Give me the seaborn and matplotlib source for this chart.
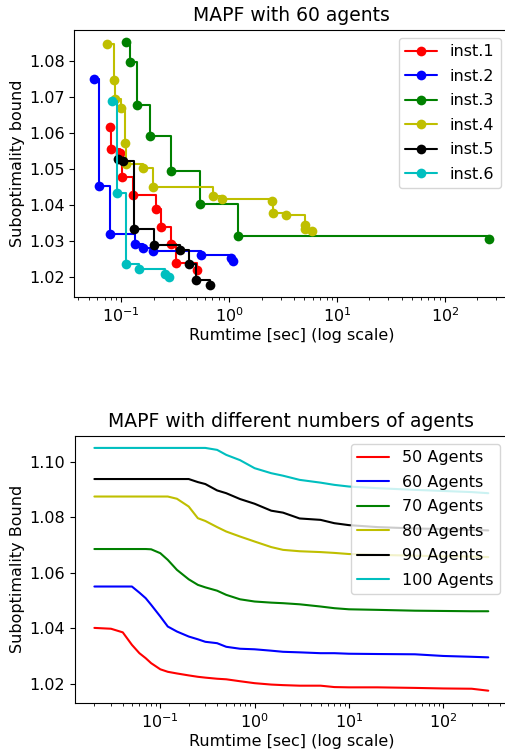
import numpy as np
import pandas as pd
import matplotlib
matplotlib.use('Agg')
import matplotlib.pyplot as plt
import seaborn as sns

# top panel: anytime runs, 60 agents, six instances (runtime [s], bound)
inst_names = ['inst.1', 'inst.2', 'inst.3', 'inst.4', 'inst.5', 'inst.6']
inst_colors = ['#ff0000', '#0000ff', '#008000', '#bfbf00', '#000000', '#00bfbf']

inst1_time = [0.0782, 0.0811, 0.0979, 0.1021, 0.128, 0.209, 0.2334, 0.2897, 0.3183, 0.509]
inst1_bound = [1.0617, 1.0555, 1.0543, 1.0476, 1.0426, 1.0389, 1.0339, 1.0291, 1.0239, 1.0218]

inst2_time = [0.0559, 0.0622, 0.0787, 0.134, 0.158, 0.196, 0.546, 1.044, 1.075]
inst2_bound = [1.0748, 1.0452, 1.0319, 1.0290, 1.0280, 1.0271, 1.0261, 1.0253, 1.0243]

inst3_time = [0.1106, 0.1192, 0.1396, 0.1838, 0.2897, 0.535, 1.217, 258.0]
inst3_bound = [1.0852, 1.0796, 1.0678, 1.0590, 1.0494, 1.0401, 1.0312, 1.0305]

inst4_time = [0.0738, 0.0852, 0.087, 0.0989, 0.1089, 0.1112, 0.16, 0.196,
              0.7087, 0.861, 2.50, 2.57, 3.37, 5.07, 5.09, 5.85]
inst4_bound = [1.0845, 1.0746, 1.0693, 1.0669, 1.0570, 1.0513, 1.0501, 1.0448,
               1.0425, 1.0416, 1.0409, 1.0378, 1.0371, 1.0343, 1.0333, 1.0326]

inst5_time = [0.0938, 0.1048, 0.1315, 0.1993, 0.354, 0.4256, 0.4942, 0.6594]
inst5_bound = [1.0528, 1.0521, 1.0333, 1.0289, 1.0275, 1.0236, 1.0191, 1.0178]

inst6_time = [0.0829, 0.0914, 0.1112, 0.1469, 0.2522, 0.277]
inst6_bound = [1.0687, 1.0431, 1.0235, 1.0221, 1.0206, 1.0198]

# bottom panel: average bound over runtime for different team sizes
agent_labels = ['50 Agents', '60 Agents', '70 Agents', '80 Agents', '90 Agents', '100 Agents']
agent_colors = ['#ff0000', '#0000ff', '#008000', '#bfbf00', '#000000', '#00bfbf']
times = [0.02, 0.03, 0.04, 0.05, 0.06, 0.07, 0.08, 0.1, 0.12, 0.15, 0.2, 0.25, 0.3, 0.4,
         0.5, 0.7, 1, 1.5, 2, 3, 5, 7, 10, 20, 50, 100, 200, 300]
bound_50 = [1.0402, 1.0399, 1.0386, 1.0341, 1.0311, 1.0293, 1.0275, 1.0253, 1.0244, 1.0238,
            1.0231, 1.0226, 1.0223, 1.0219, 1.0217, 1.0210, 1.0203, 1.0198, 1.0196, 1.0194,
            1.0194, 1.0189, 1.0188, 1.0188, 1.0186, 1.0184, 1.0183, 1.0176]
bound_60 = [1.0551, 1.0551, 1.0551, 1.0551, 1.0529, 1.0509, 1.0485, 1.0443, 1.0407, 1.0389,
            1.0371, 1.0361, 1.0352, 1.0347, 1.0334, 1.0327, 1.0325, 1.0320, 1.0316, 1.0314,
            1.0311, 1.0311, 1.0309, 1.0308, 1.0307, 1.0301, 1.0298, 1.0296]
bound_70 = [1.0686, 1.0686, 1.0686, 1.0686, 1.0686, 1.0686, 1.0685, 1.0671, 1.0647, 1.0611,
            1.0577, 1.0557, 1.0548, 1.0536, 1.0521, 1.0505, 1.0497, 1.0493, 1.0491, 1.0487,
            1.0479, 1.0473, 1.0469, 1.0467, 1.0464, 1.0463, 1.0462, 1.0462]
bound_80 = [1.0875, 1.0875, 1.0875, 1.0875, 1.0875, 1.0875, 1.0875, 1.0875, 1.0875, 1.0867,
            1.0839, 1.0797, 1.0787, 1.0765, 1.0749, 1.0731, 1.0713, 1.0693, 1.0683, 1.0678,
            1.0675, 1.0672, 1.0668, 1.0665, 1.0662, 1.0660, 1.0659, 1.0657]
bound_90 = [1.0938, 1.0938, 1.0938, 1.0938, 1.0938, 1.0938, 1.0938, 1.0938, 1.0938, 1.0938,
            1.0938, 1.0927, 1.0920, 1.0897, 1.0887, 1.0866, 1.0849, 1.0824, 1.0817, 1.0796,
            1.0791, 1.0779, 1.0772, 1.0765, 1.0760, 1.0758, 1.0755, 1.0753]
bound_100 = [1.1050, 1.1050, 1.1050, 1.1050, 1.1050, 1.1050, 1.1050, 1.1050, 1.1050, 1.1050,
             1.1050, 1.1050, 1.1050, 1.1043, 1.1025, 1.1006, 1.0977, 1.0959, 1.0950, 1.0935,
             1.0925, 1.0917, 1.0911, 1.0905, 1.0899, 1.0895, 1.0891, 1.0887]

sns.set_theme(style='ticks', rc={
    'axes.edgecolor': 'black', 'axes.linewidth': 0.8,
    'xtick.color': 'black', 'ytick.color': 'black',
    'text.color': 'black', 'axes.labelcolor': 'black',
    'xtick.major.size': 3.5, 'ytick.major.size': 3.5,
    'xtick.minor.size': 2, 'ytick.minor.size': 2,
    'xtick.major.width': 0.8, 'ytick.major.width': 0.8,
    'xtick.minor.width': 0.6, 'ytick.minor.width': 0.6,
    'xtick.labelsize': 11.5, 'ytick.labelsize': 11.5,
    'axes.labelsize': 11.5, 'axes.titlesize': 13.5, 'legend.fontsize': 11.5,
})
plt.rcParams['font.family'] = ['DejaVu Sans']

# long-form tables for seaborn
top_times = [inst1_time, inst2_time, inst3_time, inst4_time, inst5_time, inst6_time]
top_bounds = [inst1_bound, inst2_bound, inst3_bound, inst4_bound, inst5_bound, inst6_bound]
df_top = pd.concat([pd.DataFrame({'time': t, 'bound': b, 'inst': n})
                    for t, b, n in zip(top_times, top_bounds, inst_names)], ignore_index=True)

bottom_bounds = [bound_50, bound_60, bound_70, bound_80, bound_90, bound_100]
df_bot = pd.concat([pd.DataFrame({'time': times, 'bound': b, 'agents': n})
                    for b, n in zip(bottom_bounds, agent_labels)], ignore_index=True)

fig = plt.figure(figsize=(5.06, 7.52), dpi=100)
ax1 = fig.add_axes([0.1468, 0.6055, 0.859, 0.3549])
ax2 = fig.add_axes([0.1476, 0.0654, 0.8563, 0.3551])

sns.lineplot(data=df_top, x='time', y='bound', hue='inst', hue_order=inst_names,
             palette=dict(zip(inst_names, inst_colors)), marker='o', markersize=7,
             markeredgewidth=0, drawstyle='steps-post', linewidth=1.5, ax=ax1)
ax1.set_xscale('log')
ax1.set_title('MAPF with 60 agents')
ax1.set_xlabel('Rumtime [sec] (log scale)', labelpad=2)
ax1.set_ylabel('Suboptimality bound', labelpad=3)
sns.move_legend(ax1, 'upper right', title=None, fontsize=11.5, labelspacing=0.6)

sns.lineplot(data=df_bot, x='time', y='bound', hue='agents', hue_order=agent_labels,
             palette=dict(zip(agent_labels, agent_colors)), linewidth=1.5, ax=ax2)
ax2.set_xscale('log')
ax2.set_title('MAPF with different numbers of agents')
ax2.set_xlabel('Rumtime [sec] (log scale)', labelpad=2)
ax2.set_ylabel('Suboptimality Bound', labelpad=3)
ax2.set_yticks([1.02, 1.04, 1.06, 1.08, 1.10])
ax2.set_yticklabels(['1.02', '1.04', '1.06', '1.08', '1.10'])
sns.move_legend(ax2, 'upper right', title=None, fontsize=11.5, labelspacing=0.6)

fig.savefig('out.png', dpi=100)
